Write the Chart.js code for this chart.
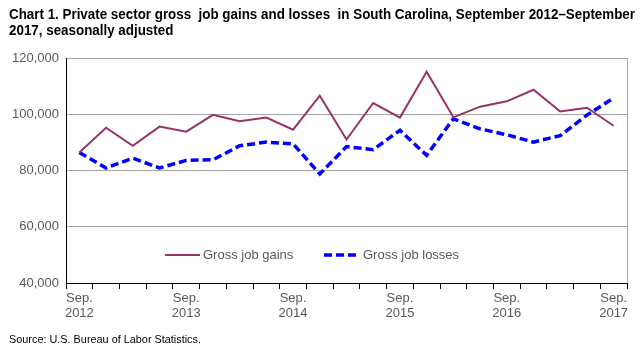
<!DOCTYPE html>
<html>
<head>
<meta charset="utf-8">
<script src="https://cdn.jsdelivr.net/npm/chart.js@4"></script>
<style>
  body { margin: 0; background: #fff; }
  #wrap { position: relative; width: 642px; height: 350px; overflow: hidden; }
  .narrow {
    position: absolute; left: 9px; white-space: nowrap;
    transform-origin: 0 0; color: #000;
  }
  #title { top: 6px; font: bold 14px Arial, "Liberation Sans", sans-serif; line-height: 16px; }
  #source { top: 333px; font: 11px Arial, "Liberation Sans", sans-serif; }
  canvas { position: absolute; left: 0; top: 0; }
</style>
</head>
<body>
<div id="wrap">
  <canvas id="chart" width="642" height="350"></canvas>
  <div id="title" class="narrow"><span id="t1">Chart 1. Private sector gross&nbsp; job gains and losses&nbsp; in South Carolina, September 2012–September</span><br>2017, seasonally adjusted</div>
  <div id="source" class="narrow"><span id="s1">Source: U.S. Bureau of Labor Statistics.</span></div>
</div>
<script>
// quarterly, Sep 2012 - Sep 2017
const quarters = [
  "Sep. 2012", "Dec. 2012", "Mar. 2013", "Jun. 2013",
  "Sep. 2013", "Dec. 2013", "Mar. 2014", "Jun. 2014",
  "Sep. 2014", "Dec. 2014", "Mar. 2015", "Jun. 2015",
  "Sep. 2015", "Dec. 2015", "Mar. 2016", "Jun. 2016",
  "Sep. 2016", "Dec. 2016", "Mar. 2017", "Jun. 2017",
  "Sep. 2017"
];
const grossGains = [
  86400, 95200, 88800, 95600, 93800, 99800, 97500, 98800, 94500, 106600,
  91000, 104000, 98800, 115100, 98900, 102700, 104600, 108700, 101000, 102300,
  95900
];
const grossLosses = [
  86400, 80900, 84400, 80900, 83600, 83800, 88800, 90100, 89500, 78750,
  88500, 87400, 94300, 85400, 98400, 94800, 92700, 90100, 92400, 99700,
  105800
];
const yTicks = [40000, 60000, 80000, 100000, 120000];

const gainsColor = "#993366";
const lossesColor = "#0000ff";
const textColor = "#595959";
const baseFont = "Arial, 'Liberation Sans', sans-serif";

// squeeze the title / source to look like the narrow font of the original
function squeeze(boxId, spanId, target) {
  const w = document.getElementById(spanId).getBoundingClientRect().width;
  document.getElementById(boxId).style.transform = "scaleX(" + (target / w) + ")";
}
squeeze("title", "t1", 626);
squeeze("source", "s1", 192);

// legend drawn inside the plot, plus the grey right border
const insideLegend = {
  id: "insideLegend",
  afterDraw(chart) {
    const ctx = chart.ctx;
    const area = chart.chartArea;
    ctx.save();
    ctx.strokeStyle = "#a6a6a6";
    ctx.lineWidth = 1;
    ctx.beginPath();
    ctx.moveTo(area.right + 0.5, area.top);
    ctx.lineTo(area.right + 0.5, area.bottom);
    ctx.stroke();

    const y = area.top + 197;
    ctx.font = "13px " + baseFont;
    ctx.fillStyle = textColor;
    ctx.textBaseline = "middle";

    ctx.strokeStyle = gainsColor;
    ctx.lineWidth = 2;
    ctx.beginPath();
    ctx.moveTo(area.left + 99, y);
    ctx.lineTo(area.left + 134, y);
    ctx.stroke();
    ctx.fillText("Gross job gains", area.left + 137, y);

    ctx.strokeStyle = lossesColor;
    ctx.lineWidth = 3.5;
    ctx.setLineDash([8, 4]);
    ctx.beginPath();
    ctx.moveTo(area.left + 258, y);
    ctx.lineTo(area.left + 292, y);
    ctx.stroke();
    ctx.setLineDash([]);
    ctx.fillText("Gross job losses", area.left + 297, y);
    ctx.restore();
  }
};

new Chart(document.getElementById("chart"), {
  type: "line",
  data: {
    labels: quarters,
    datasets: [
      {
        label: "Gross job gains",
        data: grossGains,
        borderColor: gainsColor,
        borderWidth: 2,
        pointRadius: 0,
        fill: false,
        tension: 0
      },
      {
        label: "Gross job losses",
        data: grossLosses,
        borderColor: lossesColor,
        borderWidth: 3.5,
        borderDash: [8, 4],
        pointRadius: 0,
        fill: false,
        tension: 0
      }
    ]
  },
  options: {
    responsive: false,
    animation: false,
    layout: { padding: { left: 0, top: 58, right: 15, bottom: 25 } },
    plugins: {
      legend: { display: false },
      tooltip: { enabled: false }
    },
    scales: {
      x: {
        offset: true,
        grid: {
          offset: true,
          drawOnChartArea: false,
          drawTicks: true,
          tickLength: 6,
          color: "#000"
        },
        border: { color: "#000", width: 1 },
        ticks: {
          autoSkip: false,
          maxRotation: 0,
          padding: 2,
          color: textColor,
          font: { family: baseFont, size: 13, lineHeight: 1.15 },
          callback: function (value, index) {
            if (index % 4 !== 0) return "";
            return quarters[index].split(" ");
          }
        },
        afterFit: function (scale) { scale.height = 42; }
      },
      y: {
        min: 40000,
        max: 120000,
        afterBuildTicks: function (scale) {
          scale.ticks = yTicks.map(v => ({ value: v }));
        },
        grid: { color: "#a6a6a6", drawTicks: false },
        border: { color: "#000", width: 1 },
        ticks: {
          padding: 7,
          color: textColor,
          font: { family: baseFont, size: 13 },
          callback: v => v.toLocaleString("en-US")
        },
        afterFit: function (scale) { scale.width = 66; }
      }
    }
  },
  plugins: [insideLegend]
});
</script>
</body>
</html>
